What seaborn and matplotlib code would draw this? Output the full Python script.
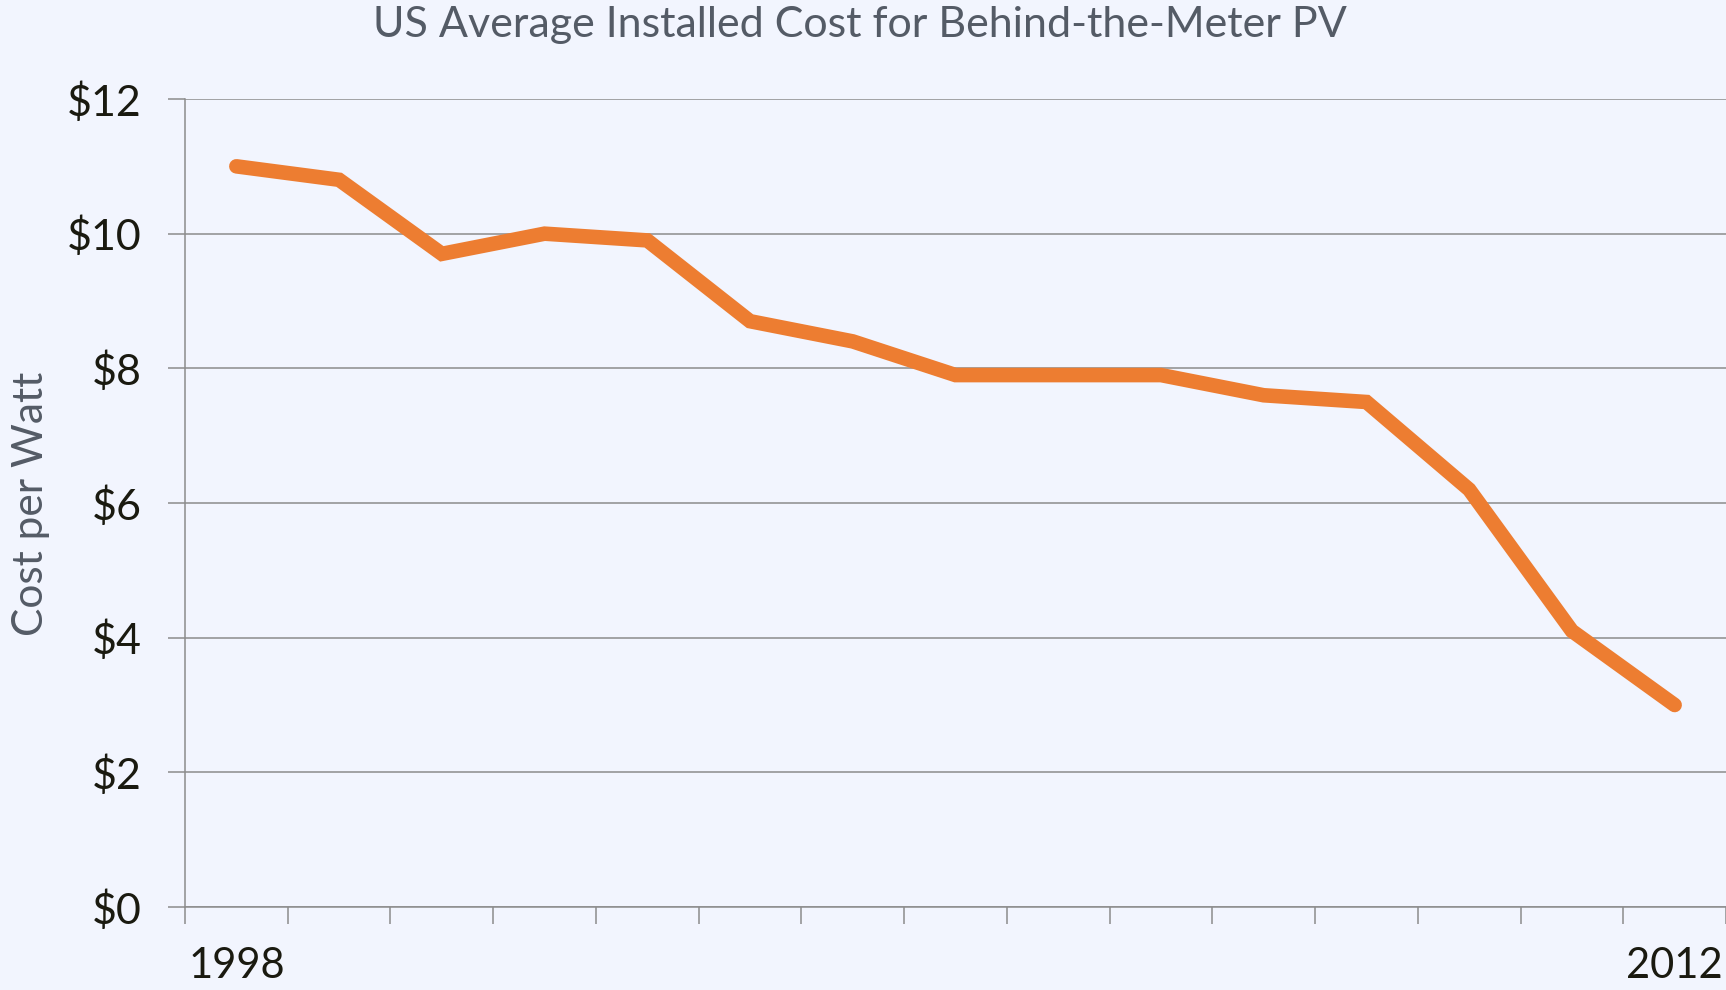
import matplotlib
matplotlib.use("Agg")
import matplotlib.pyplot as plt
import seaborn as sns
import numpy as np
import pandas as pd

years = [1998, 1999, 2000, 2001, 2002, 2003, 2004, 2005, 2006, 2007, 2008, 2009, 2010, 2011, 2012]
cost_per_watt = [11.0, 10.8, 9.7, 10.0, 9.9, 8.7, 8.4, 7.9, 7.9, 7.9, 7.6, 7.5, 6.2, 4.1, 3.0]
y_ticks = [0, 2, 4, 6, 8, 10, 12]
y_tick_labels = ["$0", "$2", "$4", "$6", "$8", "$10", "$12"]
x_tick_labels = ["1998", "2012"]
title = "US Average Installed Cost for Behind-the-Meter PV"
y_label = "Cost per Watt"

BG = "#F2F5FE"
sns.set_style("white")
plt.rcParams["font.family"] = ["Lato", "DejaVu Sans"]

fig = plt.figure(figsize=(17.26, 9.9), dpi=100, facecolor=BG)
ax = fig.add_axes([185 / 1726, 1 - 907 / 990, 1 - 185 / 1726, (907 - 99) / 990])
ax.set_facecolor(BG)

df = pd.DataFrame({"year": years, "cost": cost_per_watt})
sns.lineplot(data=df, x="year", y="cost", ax=ax, color="#ED7D31", linewidth=10.5,
             solid_capstyle="round", solid_joinstyle="miter")

ax.set_xlim(years[0] - 0.5, years[-1] + 0.5)
ax.set_ylim(0, 12)

GRID = "#8C8C8C"
ax.set_yticks(y_ticks)
ax.set_yticklabels(y_tick_labels)
ax.yaxis.grid(True, color=GRID, linewidth=1.1)
ax.set_axisbelow(True)

ax.set_xticks([years[0], years[-1]])
ax.set_xticklabels(x_tick_labels)
ax.set_xticks(np.arange(years[0] - 0.5, years[-1] + 1.0, 1.0), minor=True)
ax.tick_params(axis="x", which="major", bottom=True, length=0, pad=29, labelsize=30,
               labelcolor="#1a1a10")
ax.tick_params(axis="x", which="minor", bottom=True, length=12, width=1.1, color=GRID,
               direction="out")
ax.tick_params(axis="y", which="major", left=True, length=12, width=1.1, color=GRID, pad=19,
               labelsize=31, labelcolor="#1a1a10")

for s in ["top", "right"]:
    ax.spines[s].set_visible(False)
ax.spines["left"].set_color(GRID)
ax.spines["left"].set_linewidth(1.1)
ax.spines["bottom"].set_color(GRID)
ax.spines["bottom"].set_linewidth(1.1)

ax.set_xlabel("")
ax.set_ylabel("")
fig.text(31 / 1726, 1 - 504 / 990, y_label, rotation=90, ha="center", va="center",
         fontsize=30.5, color="#545B66")
fig.text(860 / 1726, 1 - 25 / 990, title, ha="center", va="center",
         fontsize=31, color="#545B66")

fig.savefig("out.png", dpi=100, facecolor=BG)
